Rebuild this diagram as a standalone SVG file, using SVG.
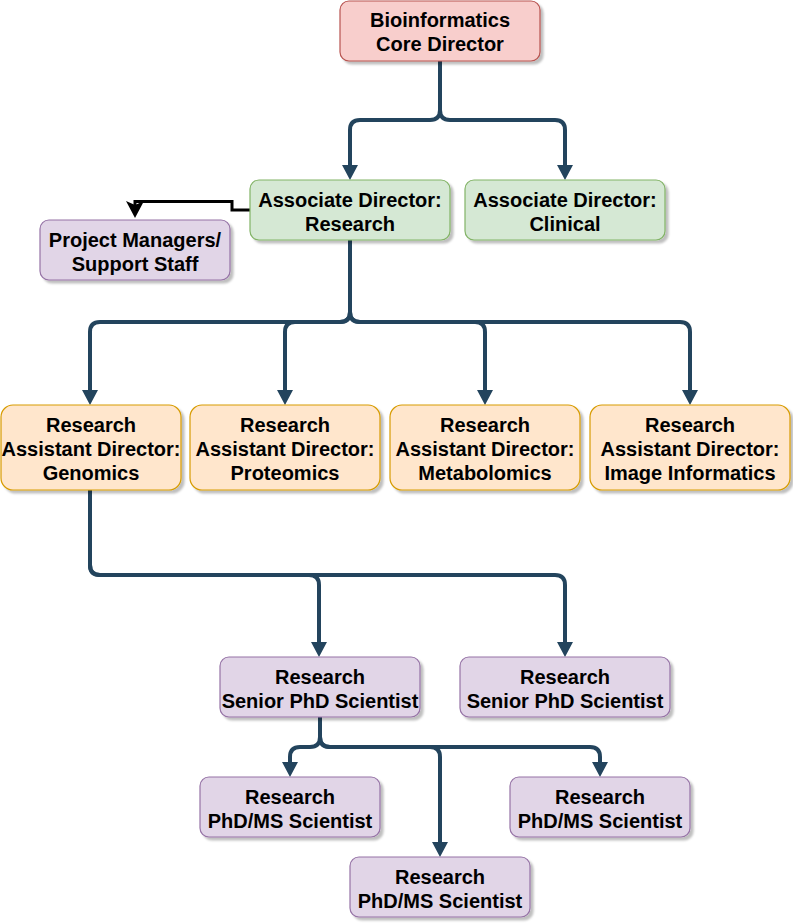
<svg xmlns="http://www.w3.org/2000/svg" width="793" height="923" viewBox="0 0 793 923">
<style>
  .box { stroke-width: 1.2; filter: url(#sh); }
  .red { fill: #f8cecc; stroke: #b85450; }
  .green { fill: #d5e8d4; stroke: #82b366; }
  .orange { fill: #ffe6cc; stroke: #d79b00; }
  .purple { fill: #e1d5e7; stroke: #9673a6; }
  text { font-family: "Liberation Sans", Arial, Helvetica, sans-serif; font-weight: bold; font-size: 20px; fill: #000; text-anchor: middle; }
  .edge { fill: none; stroke: #23445D; stroke-width: 4; marker-end: url(#blk); }
  .edgeK { fill: none; stroke: #000; stroke-width: 3; marker-end: url(#cls); }
</style>
<defs>
  <filter id="sh" x="-10%" y="-10%" width="130%" height="140%">
    <feDropShadow dx="3" dy="3" stdDeviation="0.8" flood-color="#000" flood-opacity="0.25"/>
  </filter>
  <marker id="blk" viewBox="0 0 16 16" markerWidth="16" markerHeight="16" refX="1" refY="8" orient="auto" markerUnits="userSpaceOnUse">
    <path d="M0,0 L15,8 L0,16 Z" fill="#23445D"/>
  </marker>
  <marker id="cls" viewBox="0 0 17 18" markerWidth="17" markerHeight="18" refX="4" refY="9" orient="auto" markerUnits="userSpaceOnUse">
    <path d="M0,0 L17,9 L0,18 L4,9 Z" fill="#000"/>
  </marker>
</defs>
<rect width="793" height="923" fill="#ffffff"/>

<g id="connectors">
  <path class="edge" d="M440,61 V110 Q440,120 430,120 H360 Q350,120 350,130 V166"/>
  <path class="edge" d="M440,61 V110 Q440,120 450,120 H555 Q565,120 565,130 V166"/>
  <path class="edgeK" d="M250,210 H232 V201.5 H135 V205"/>
  <path class="edge" d="M350,240 V312 Q350,322 340,322 H100 Q90,322 90,332 V391"/>
  <path class="edge" d="M350,240 V312 Q350,322 340,322 H295 Q285,322 285,332 V391"/>
  <path class="edge" d="M350,240 V312 Q350,322 360,322 H475 Q485,322 485,332 V391"/>
  <path class="edge" d="M350,240 V312 Q350,322 360,322 H680 Q690,322 690,332 V391"/>
  <path class="edge" d="M90,490 V565 Q90,575 100,575 H309 Q319,575 319,585 V643"/>
  <path class="edge" d="M90,490 V565 Q90,575 100,575 H555 Q565,575 565,585 V643"/>
  <path class="edge" d="M320,717 V737 Q320,747 310,747 H300 Q290,747 290,757 V763"/>
  <path class="edge" d="M320,717 V737 Q320,747 330,747 H430 Q440,747 440,757 V843"/>
  <path class="edge" d="M320,717 V737 Q320,747 330,747 H590 Q600,747 600,757 V763"/>
</g>

<g id="core-director">
  <rect class="box red" x="340" y="1" width="200" height="60" rx="9"/>
  <text x="440" y="27">Bioinformatics</text>
  <text x="440" y="51">Core Director</text>
</g>
<g id="assoc-research">
  <rect class="box green" x="250" y="180" width="200" height="60" rx="9"/>
  <text x="350" y="206.5">Associate Director:</text>
  <text x="350" y="230.5">Research</text>
</g>
<g id="assoc-clinical">
  <rect class="box green" x="465" y="180" width="200" height="60" rx="9"/>
  <text x="565" y="206.5">Associate Director:</text>
  <text x="565" y="230.5">Clinical</text>
</g>
<g id="project-managers">
  <rect class="box purple" x="40" y="220" width="190" height="60" rx="9"/>
  <text x="135" y="246.5">Project Managers/</text>
  <text x="135" y="270.5">Support Staff</text>
</g>
<g id="rad-genomics">
  <rect class="box orange" x="1" y="405" width="180" height="85" rx="12"/>
  <text x="91" y="431.5">Research</text>
  <text x="91" y="455.5">Assistant Director:</text>
  <text x="91" y="479.5">Genomics</text>
</g>
<g id="rad-proteomics">
  <rect class="box orange" x="190" y="405" width="190" height="85" rx="12"/>
  <text x="285" y="431.5">Research</text>
  <text x="285" y="455.5">Assistant Director:</text>
  <text x="285" y="479.5">Proteomics</text>
</g>
<g id="rad-metabolomics">
  <rect class="box orange" x="390" y="405" width="190" height="85" rx="12"/>
  <text x="485" y="431.5">Research</text>
  <text x="485" y="455.5">Assistant Director:</text>
  <text x="485" y="479.5">Metabolomics</text>
</g>
<g id="rad-image">
  <rect class="box orange" x="590" y="405" width="200" height="85" rx="12"/>
  <text x="690" y="431.5">Research</text>
  <text x="690" y="455.5">Assistant Director:</text>
  <text x="690" y="479.5">Image Informatics</text>
</g>
<g id="senior-1">
  <rect class="box purple" x="220" y="657" width="200" height="60" rx="9"/>
  <text x="320" y="683.5">Research</text>
  <text x="320" y="707.5">Senior PhD Scientist</text>
</g>
<g id="senior-2">
  <rect class="box purple" x="460" y="657" width="210" height="60" rx="9"/>
  <text x="565" y="683.5">Research</text>
  <text x="565" y="707.5">Senior PhD Scientist</text>
</g>
<g id="phd-1">
  <rect class="box purple" x="200" y="777" width="180" height="60" rx="9"/>
  <text x="290" y="803.5">Research</text>
  <text x="290" y="827.5">PhD/MS Scientist</text>
</g>
<g id="phd-2">
  <rect class="box purple" x="350" y="857" width="180" height="60" rx="9"/>
  <text x="440" y="883.5">Research</text>
  <text x="440" y="907.5">PhD/MS Scientist</text>
</g>
<g id="phd-3">
  <rect class="box purple" x="510" y="777" width="180" height="60" rx="9"/>
  <text x="600" y="803.5">Research</text>
  <text x="600" y="827.5">PhD/MS Scientist</text>
</g>
</svg>
